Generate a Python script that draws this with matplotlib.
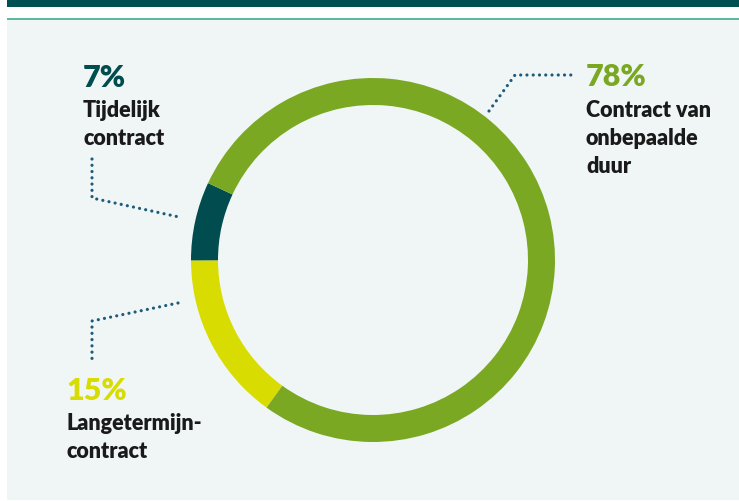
import matplotlib
matplotlib.use("Agg")
import matplotlib.pyplot as plt
from matplotlib.patches import Rectangle

# Data
categories = ["Tijdelijk contract", "Langetermijn-contract", "Contract van onbepaalde duur"]
values = [7, 15, 78]
pct_labels = ["7%", "15%", "78%"]
text_labels = ["Tijdelijk\ncontract", "Langetermijn-\ncontract", "Contract van\nonbepaalde\nduur"]
colors = ["#004c4e", "#d9dc00", "#7aa822"]

W, H = 739, 502
fig = plt.figure(figsize=(W / 100, H / 100), dpi=100)
fig.patch.set_facecolor("white")
ax = fig.add_axes([0, 0, 1, 1])
ax.set_xlim(0, W)
ax.set_ylim(0, H)
ax.axis("off")

def Y(y):
    return H - y

# Background panel and header bars
ax.add_patch(Rectangle((7, Y(501)), W - 7, 501 - 21, facecolor="#f0f6f6", edgecolor="none", zorder=0))
ax.add_patch(Rectangle((7, Y(8)), W - 7, 8, facecolor="#005052", edgecolor="none", zorder=1))
ax.add_patch(Rectangle((7, Y(21)), W - 7, 2, facecolor="#5db89e", edgecolor="none", zorder=1))

# Donut
cx, cy, R = 373, Y(261), 182
ax.pie(values, colors=colors, startangle=155, counterclock=True, center=(cx, cy), radius=R,
       wedgeprops=dict(width=27, edgecolor="none", linewidth=0), frame=True)
ax.set_xlim(0, W)
ax.set_ylim(0, H)
ax.set_aspect("equal")
ax.axis("off")

# Leader lines (dotted)
dot = dict(color="#1d5b79", linewidth=2.3, linestyle=(0, (0.01, 1.95)), dash_capstyle="round", zorder=3)
ax.plot([92, 92, 179], [Y(160), Y(199), Y(218)], **dot)
ax.plot([178, 92, 92], [Y(304), Y(322), Y(360)], **dot)
ax.plot([489, 515, 571], [Y(112), Y(76), Y(76)], **dot)

fam = ["Lato", "DejaVu Sans"]
pct_size = 22
lab_size = 15.5
# percent labels
pct_pos = [(83, 87), (66, 400), (586, 86)]
pct_colors = ["#004c4e", "#d9dc00", "#7aa822"]
for (x, y), t, c in zip(pct_pos, pct_labels, pct_colors):
    ax.text(x, Y(y), t, fontsize=pct_size, fontweight="heavy", family=fam, color=c,
            ha="left", va="baseline", zorder=4)

lab_pos = [(83, 117), (66, 430), (586, 117)]
for (x, y), t in zip(lab_pos, text_labels):
    lines = t.split("\n")
    for i, ln in enumerate(lines):
        ax.text(x, Y(y + 27.8 * i), ln, fontsize=lab_size, fontweight="heavy", family=fam,
                color="#1a1a1a", ha="left", va="baseline", zorder=4)

fig.savefig("out.png", dpi=100, facecolor=fig.get_facecolor())
